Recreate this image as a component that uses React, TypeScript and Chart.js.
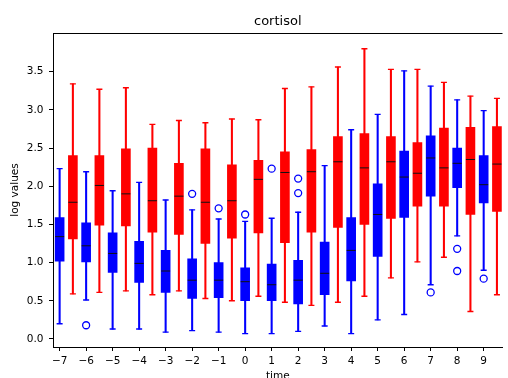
import { useEffect, useRef } from "react";
import { Chart, registerables } from "chart.js";

Chart.register(...registerables);

// ---- data ----
const times = [-7, -6, -5, -4, -3, -2, -1, 0, 1, 2, 3, 4, 5, 6, 7, 8, 9];
const xTicks = [-7, -6, -5, -4, -3, -2, -1, 0, 1, 2, 3, 4, 5, 6, 7, 8, 9];
const yTicks = [0, 0.5, 1, 1.5, 2, 2.5, 3, 3.5];

const blueHigh = [2.23, 2.19, 1.94, 2.05, 1.82, 1.69, 1.57, 1.54, 1.58, 1.66, 2.27, 2.74, 2.94, 3.51, 3.31, 3.13, 2.99];
const blueQ3 = [1.59, 1.52, 1.39, 1.28, 1.16, 1.05, 1.0, 0.93, 0.98, 1.03, 1.27, 1.59, 2.03, 2.46, 2.66, 2.5, 2.4];
const blueMed = [1.34, 1.22, 1.12, 0.99, 0.89, 0.77, 0.77, 0.75, 0.71, 0.77, 0.86, 1.16, 1.63, 2.12, 2.37, 2.3, 2.02];
const blueQ1 = [1.02, 1.01, 0.87, 0.74, 0.61, 0.53, 0.54, 0.5, 0.5, 0.46, 0.58, 0.76, 1.08, 1.59, 1.87, 1.98, 1.78];
const blueLow = [0.2, 0.51, 0.13, 0.13, 0.09, 0.11, 0.09, 0.07, 0.07, 0.1, 0.17, 0.07, 0.25, 0.32, 0.71, 1.35, 0.9];
const blueOutliers = [[], [0.18], [], [], [], [1.9], [1.71], [1.63], [2.23], [2.1, 1.91], [], [], [], [], [0.61], [1.18, 0.89], [0.79]];

const redHigh = [3.34, 3.27, 3.29, 2.81, 2.86, 2.83, 2.88, 2.87, 3.28, 3.3, 3.56, 3.8, 3.53, 3.53, 3.36, 3.18, 3.15];
const redQ3 = [2.4, 2.4, 2.49, 2.5, 2.3, 2.49, 2.28, 2.34, 2.45, 2.48, 2.65, 2.69, 2.65, 2.57, 2.76, 2.77, 2.78];
const redMed = [1.79, 2.01, 1.9, 1.81, 1.87, 1.79, 1.81, 2.09, 2.18, 2.19, 2.32, 2.24, 2.32, 2.17, 2.24, 2.35, 2.29];
const redQ1 = [1.31, 1.49, 1.48, 1.4, 1.37, 1.25, 1.32, 1.39, 1.26, 1.4, 1.46, 1.5, 1.58, 1.74, 1.74, 1.63, 1.67];
const redLow = [0.59, 0.61, 0.63, 0.58, 0.63, 0.53, 0.5, 0.56, 0.48, 0.44, 0.48, 0.56, 0.8, 1.01, 1.07, 0.36, 0.58];

const RED_OFFSET = 0.5;
const BLUE = "#0000ff";
const RED = "#ff0000";
const FONT = "'DejaVu Sans', sans-serif";

const range = (xs: number[], lo: number[], hi: number[]) => xs.map((x, i) => ({ x, y: [lo[i], hi[i]] }));
const pts = (xs: number[], v: number[]) => xs.map((x, i) => ({ x, y: v[i] }));

const framePlugin = {
  id: "frameTop",
  afterDraw(chart: any) {
    const { ctx, chartArea } = chart;
    ctx.save();
    ctx.strokeStyle = "#000";
    ctx.lineWidth = 1;
    ctx.beginPath();
    ctx.moveTo(chartArea.left, Math.round(chartArea.top) + 0.5);
    ctx.lineTo(chartArea.right, Math.round(chartArea.top) + 0.5);
    ctx.stroke();
    ctx.restore();
  },
};

export default function App() {
  const ref = useRef<HTMLCanvasElement>(null);

  useEffect(() => {
    document.body.style.margin = "0";
    const redX = times.map((t) => t + RED_OFFSET);
    const groups = [
      { xs: times, hi: blueHigh, q3: blueQ3, med: blueMed, q1: blueQ1, lo: blueLow, color: BLUE },
      { xs: redX, hi: redHigh, q3: redQ3, med: redMed, q1: redQ1, lo: redLow, color: RED },
    ];
    const datasets: any[] = [];
    groups.forEach((g) => {
      datasets.push({
        type: "bar",
        data: range(g.xs, g.lo, g.hi),
        backgroundColor: g.color,
        barThickness: 1.4,
        grouped: false,
        order: 10,
      });
      datasets.push({
        type: "bar",
        data: range(g.xs, g.q1, g.q3),
        backgroundColor: g.color,
        barThickness: 9,
        grouped: false,
        order: 5,
      });
      datasets.push({
        type: "scatter",
        data: [...pts(g.xs, g.hi), ...pts(g.xs, g.lo)],
        pointStyle: "line",
        pointRadius: 3,
        borderColor: g.color,
        borderWidth: 1.4,
        order: 3,
      });
      datasets.push({
        type: "scatter",
        data: pts(g.xs, g.med),
        pointStyle: "line",
        pointRadius: 4.5,
        borderColor: "#111",
        borderWidth: 1,
        order: 2,
      });
    });
    const outlierData: { x: number; y: number }[] = [];
    times.forEach((t, i) => blueOutliers[i].forEach((v) => outlierData.push({ x: t, y: v })));
    datasets.push({
      type: "scatter",
      data: outlierData,
      pointStyle: "circle",
      pointRadius: 3.5,
      borderColor: BLUE,
      backgroundColor: "rgba(0,0,0,0)",
      borderWidth: 1.3,
      order: 1,
    });

    const tickFont = { family: FONT, size: 10.5 };
    const chart = new Chart(ref.current as HTMLCanvasElement, {
      type: "bar",
      data: { datasets },
      plugins: [framePlugin],
      options: {
        animation: false,
        responsive: false,
        devicePixelRatio: 1,
        layout: { padding: 0 },
        plugins: {
          legend: { display: false },
          tooltip: { enabled: false },
          title: {
            display: true,
            text: "cortisol",
            fullSize: false,
            color: "#000",
            font: { family: FONT, size: 13, weight: "normal" },
            padding: { top: 13.5, bottom: 3.9 },
          },
        },
        scales: {
          x: {
            type: "linear",
            min: -7.25,
            max: 9.71,
            offset: false,
            afterBuildTicks: (s: any) => {
              s.ticks = xTicks.map((v) => ({ value: v }));
            },
            afterFit: (s: any) => {
              s.height = 31;
            },
            ticks: {
              color: "#000",
              font: tickFont,
              padding: 4,
              maxRotation: 0,
              autoSkip: false,
              callback: (v: any) => String(v).replace("-", "\u2212"),
            },
            grid: { display: true, drawOnChartArea: false, drawTicks: true, tickLength: 4, color: "#000", offset: false },
            border: { display: true, color: "#000", width: 1 },
            title: {
              display: true,
              text: "time",
              color: "#000",
              font: { family: FONT, size: 10.5 },
              padding: { top: 0, bottom: -4.5 },
            },
          },
          y: {
            type: "linear",
            min: -0.105,
            max: 4.006,
            afterBuildTicks: (s: any) => {
              s.ticks = yTicks.map((v) => ({ value: v }));
            },
            afterFit: (s: any) => {
              s.width = 53;
            },
            ticks: {
              color: "#000",
              font: tickFont,
              padding: 5.5,
              callback: (v: any) => Number(v).toFixed(1),
            },
            grid: { display: true, drawOnChartArea: false, drawTicks: true, tickLength: 4, color: "#000" },
            border: { display: true, color: "#000", width: 1 },
            title: {
              display: true,
              text: "log values",
              color: "#000",
              font: { family: FONT, size: 10.5 },
              padding: { top: 9, bottom: 0 },
            },
          },
        },
      } as any,
    });
    return () => chart.destroy();
  }, []);

  return (
    <div style={{ position: "absolute", left: 0, top: 0, width: 508, height: 378 }}>
      <canvas ref={ref} width={508} height={378} style={{ width: 508, height: 378, display: "block" }} />
    </div>
  );
}
